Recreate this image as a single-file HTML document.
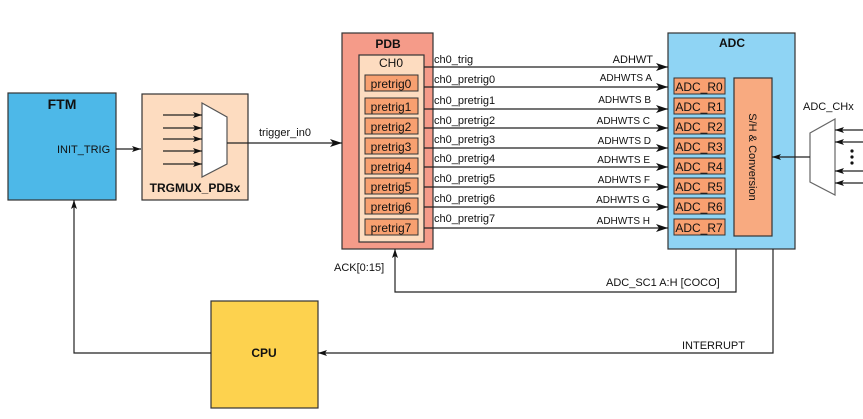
<!DOCTYPE html>
<html><head><meta charset="utf-8"><style>
html,body{margin:0;padding:0;background:#fff;}
svg{display:block;font-family:"Liberation Sans",Arial,sans-serif;}
</style></head><body>
<svg width="863" height="419" viewBox="0 0 863 419" xmlns="http://www.w3.org/2000/svg">
<defs>
<marker id="a" markerWidth="12" markerHeight="8" refX="12" refY="4" orient="auto" markerUnits="userSpaceOnUse"><path d="M0,0 L12,4 L0,8 L3,4 Z" fill="#111"/></marker>
<marker id="s" markerWidth="9" markerHeight="6" refX="9" refY="3" orient="auto" markerUnits="userSpaceOnUse"><path d="M0,0 L9,3 L0,6 L2,3 Z" fill="#111"/></marker>
</defs>
<g stroke="#333" stroke-width="1.2">
<rect x="8" y="93" width="108" height="107" fill="#4db8e8"/>
<rect x="142" y="94" width="106" height="106" fill="#fddcc0"/>
<polygon points="202,103 227,117 227,164 202,177" fill="#fff" stroke="#555"/>
<rect x="342" y="33" width="91" height="216" fill="#f59b89"/>
<rect x="359" y="55" width="65" height="187" fill="#fddcc0"/>
<rect x="668" y="33" width="127" height="216" fill="#8fd4f4"/>
<rect x="734" y="78" width="38" height="158" fill="#f8aa80"/>
<polygon points="810,133 835,119 835,195 810,182" fill="#fff" stroke="#666"/>
<rect x="211" y="301" width="107" height="107" fill="#fdd24e"/>
</g>
<g fill="#f8a070" stroke="#333" stroke-width="1">
<rect x="365" y="75" width="53" height="16"/>
<rect x="365" y="98" width="53" height="16"/>
<rect x="365" y="118" width="53" height="16"/>
<rect x="365" y="138" width="53" height="16"/>
<rect x="365" y="158" width="53" height="16"/>
<rect x="365" y="178" width="53" height="16"/>
<rect x="365" y="198" width="53" height="16"/>
<rect x="365" y="219" width="53" height="16"/>
<rect x="674" y="78" width="51" height="16"/>
<rect x="674" y="98" width="51" height="16"/>
<rect x="674" y="118" width="51" height="16"/>
<rect x="674" y="138" width="51" height="16"/>
<rect x="674" y="158" width="51" height="16"/>
<rect x="674" y="178" width="51" height="16"/>
<rect x="674" y="198" width="51" height="16"/>
<rect x="674" y="219" width="51" height="16"/>
</g>
<g stroke="#222" stroke-width="1.2" fill="none">
<line x1="116" y1="149" x2="141" y2="149" marker-end="url(#s)"/>
<line x1="163" y1="115" x2="202" y2="115" marker-end="url(#s)"/>
<line x1="163" y1="128" x2="202" y2="128" marker-end="url(#s)"/>
<line x1="163" y1="139" x2="202" y2="139" marker-end="url(#s)"/>
<line x1="163" y1="151" x2="202" y2="151" marker-end="url(#s)"/>
<line x1="163" y1="164" x2="202" y2="164" marker-end="url(#s)"/>
<line x1="227" y1="143" x2="342" y2="143" marker-end="url(#a)"/>
<line x1="424" y1="67" x2="668" y2="67" marker-end="url(#a)"/>
<line x1="424" y1="87" x2="668" y2="87" marker-end="url(#a)"/>
<line x1="424" y1="109" x2="668" y2="109" marker-end="url(#a)"/>
<line x1="424" y1="128" x2="668" y2="128" marker-end="url(#a)"/>
<line x1="424" y1="148" x2="668" y2="148" marker-end="url(#a)"/>
<line x1="424" y1="167" x2="668" y2="167" marker-end="url(#a)"/>
<line x1="424" y1="187" x2="668" y2="187" marker-end="url(#a)"/>
<line x1="424" y1="207" x2="668" y2="207" marker-end="url(#a)"/>
<line x1="424" y1="228" x2="668" y2="228" marker-end="url(#a)"/>
<line x1="863" y1="130" x2="835" y2="130" marker-end="url(#s)"/>
<line x1="863" y1="142" x2="835" y2="142" marker-end="url(#s)"/>
<line x1="863" y1="171" x2="835" y2="171" marker-end="url(#s)"/>
<line x1="863" y1="183" x2="835" y2="183" marker-end="url(#s)"/>
<line x1="810" y1="157" x2="772" y2="157" marker-end="url(#s)"/>
<polyline points="736,249 736,292 395,292 395,249" marker-end="url(#s)"/>
<polyline points="773,249 773,353 318,353" marker-end="url(#s)"/>
<polyline points="211,353 74,353 74,200" marker-end="url(#s)"/>
</g>
<g fill="#111">
<circle cx="852" cy="151" r="1.6"/><circle cx="852" cy="157" r="1.6"/><circle cx="852" cy="163" r="1.6"/>
</g>
<g fill="#111" font-size="12">
<text x="62" y="109" font-weight="bold" font-size="14" text-anchor="middle">FTM</text>
<text x="57" y="153" font-size="11">INIT_TRIG</text>
<text x="195" y="192" font-weight="bold" font-size="12" text-anchor="middle">TRGMUX_PDBx</text>
<text x="285" y="136" font-size="11" text-anchor="middle">trigger_in0</text>
<text x="388" y="48" font-weight="bold" text-anchor="middle">PDB</text>
<text x="391" y="67" text-anchor="middle" font-size="12">CH0</text>
<g text-anchor="middle" font-size="12">
<text x="391" y="88">pretrig0</text><text x="391" y="111">pretrig1</text><text x="391" y="131">pretrig2</text><text x="391" y="151">pretrig3</text><text x="391" y="171">pretrig4</text><text x="391" y="191">pretrig5</text><text x="391" y="211">pretrig6</text><text x="391" y="232">pretrig7</text>
<text x="699" y="91">ADC_R0</text><text x="699" y="111">ADC_R1</text><text x="699" y="131">ADC_R2</text><text x="699" y="151">ADC_R3</text><text x="699" y="171">ADC_R4</text><text x="699" y="191">ADC_R5</text><text x="699" y="211">ADC_R6</text><text x="699" y="232">ADC_R7</text>
</g>
<g font-size="11">
<text x="434" y="63">ch0_trig</text><text x="434" y="83">ch0_pretrig0</text><text x="434" y="104">ch0_pretrig1</text><text x="434" y="124">ch0_pretrig2</text><text x="434" y="143">ch0_pretrig3</text><text x="434" y="162">ch0_pretrig4</text><text x="434" y="182">ch0_pretrig5</text><text x="434" y="202">ch0_pretrig6</text><text x="434" y="222">ch0_pretrig7</text>
</g>
<g font-size="10" text-anchor="end">
<text x="653" y="63" font-size="11">ADHWT</text><text x="652" y="81">ADHWTS A</text><text x="651" y="103">ADHWTS B</text><text x="650" y="124">ADHWTS C</text><text x="651" y="144">ADHWTS D</text><text x="650" y="163">ADHWTS E</text><text x="650" y="183">ADHWTS F</text><text x="650" y="203">ADHWTS G</text><text x="650" y="224">ADHWTS H</text>
</g>
<text x="732" y="47" font-weight="bold" text-anchor="middle">ADC</text>
<text transform="translate(749,157) rotate(90)" text-anchor="middle" font-size="11">S/H &amp; Conversion</text>
<text x="803" y="110" font-size="11">ADC_CHx</text>
<text x="334" y="271" font-size="11">ACK[0:15]</text>
<text x="606" y="286" font-size="11">ADC_SC1 A:H [COCO]</text>
<text x="682" y="349" font-size="11">INTERRUPT</text>
<text x="264" y="357" font-weight="bold" text-anchor="middle" font-size="12">CPU</text>
</g>
</svg>
</body></html>
